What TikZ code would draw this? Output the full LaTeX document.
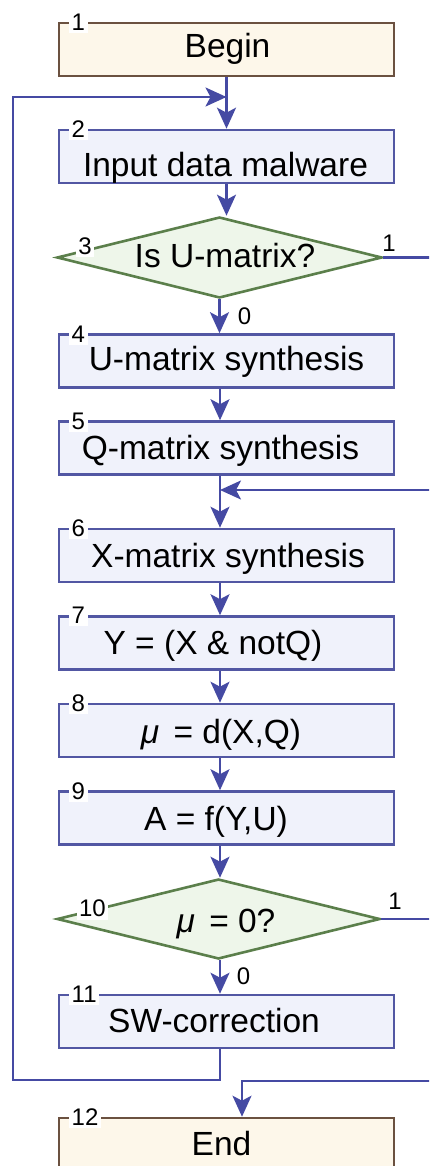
\documentclass[tikz,border=0pt]{standalone}
\usepackage{fontspec}
\setmainfont{Liberation Sans}
\usetikzlibrary{shapes.geometric,arrows.meta}
\definecolor{conncol}{HTML}{454AA3}
\definecolor{boxdraw}{HTML}{5257A3}
\definecolor{boxfill}{HTML}{F0F2FB}
\definecolor{termdraw}{HTML}{6B5140}
\definecolor{termfill}{HTML}{FDF7EA}
\definecolor{decdraw}{HTML}{5B7F4B}
\definecolor{decfill}{HTML}{EEF6EA}
\begin{document}
\begin{tikzpicture}[x=1pt,y=-1pt,
 proc/.style={rectangle,draw=boxdraw,fill=boxfill,line width=2.6pt,minimum width=335pt,minimum height=53pt,inner sep=0pt},
 term/.style={proc,draw=termdraw,fill=termfill},
 dec/.style={diamond,draw=decdraw,fill=decfill,line width=2.6pt,inner sep=0pt,aspect=4},
 txt/.style={anchor=base,inner sep=0pt,font=\fontsize{33.5}{40}\selectfont},
 num/.style={fill=white,inner sep=2.5pt,font=\fontsize{24}{28}\selectfont},
 brl/.style={inner sep=0pt,font=\fontsize{24}{28}\selectfont},
 conn/.style={draw=conncol,line width=2.4pt,line join=miter,-{Stealth[length=21pt,width=19pt,inset=5pt]}},
 wire/.style={draw=conncol,line width=2.4pt,line join=miter}]
\useasboundingbox (0,0) rectangle (429,1166);
\clip (0,0) rectangle (429,1166);
% shapes
\node[term] (b1) at (226.5,49.5) {};
\node[proc] (b2) at (226.5,156.5) {};
\node[dec,minimum width=325pt,minimum height=81pt] (d3) at (219.5,257.5) {};
\node[proc] (b4) at (226.5,361) {};
\node[proc] (b5) at (226.5,448) {};
\node[proc] (b6) at (226.5,555.5) {};
\node[proc] (b7) at (226.5,643) {};
\node[proc] (b8) at (226.5,730.5) {};
\node[proc] (b9) at (226.5,818) {};
\node[dec,minimum width=323pt,minimum height=80pt] (d10) at (218.5,919) {};
\node[proc] (b11) at (226.5,1021.5) {};
\node[term] (b12) at (226.5,1144.5) {};
% helper coordinates
\coordinate (cx) at (220,0);
\coordinate (lb) at (13,1080);
\coordinate (lt) at (13,97);
\coordinate (r3) at (440,257.5);
\coordinate (r5) at (440,490);
\coordinate (r10) at (440,919);
\coordinate (r11) at (440,1081);
\coordinate (ej) at (242,1081);
% connectors
\draw[conn] (b1.south) -- (b2.north);
\draw[conn] (b2.south) -- (b2.south |- d3.north);
\draw[conn] (d3.south) -- (d3.south |- b4.north);
\draw[conn] (cx |- b4.south) -- (cx |- b5.north);
\draw[conn] (cx |- b5.south) -- (cx |- b6.north);
\draw[conn] (r5) -- (cx |- r5);
\draw[conn] (cx |- b6.south) -- (cx |- b7.north);
\draw[conn] (cx |- b7.south) -- (cx |- b8.north);
\draw[conn] (cx |- b8.south) -- (cx |- b9.north);
\draw[conn] (cx |- b9.south) -- (cx |- d10.north);
\draw[conn] (cx |- d10.south) -- (cx |- b11.north);
\draw[conn] (cx |- b11.south) |- (lb) -- (lt) -- (b1.south |- lt);
\draw[wire] (d3.east) -- (r3);
\draw[wire] (d10.east) -- (r10);
\draw[conn] (r11) -- (ej) -- (ej |- b12.north);
% texts
\node[txt] (t1) at (227.5,57.5) {Begin};
\node[txt] (t2) at (225.5,177) {Input data malware};
\node[txt] (t3) at (225,267) {Is U-matrix?};
\node[txt] (t4) at (226.5,370) {U-matrix synthesis};
\node[txt] (t5) at (220.5,459) {Q-matrix synthesis};
\node[txt] (t6) at (228,567) {X-matrix synthesis};
\node[txt] (t7) at (213,654) {Y = (X \& notQ)};
\node[txt] (t8) at (221,743) {{\itshape μ}\hspace{5pt} = d(X,Q)};
\node[txt] (t9) at (216,830) {A = f(Y,U)};
\node[txt] (t10) at (226,932) {{\itshape μ}\hspace{5pt} = 0?};
\node[txt] (t11) at (214,1032) {SW-correction};
\node[txt] (t12) at (221.5,1155) {End};
% number labels
\node[num,anchor=west] (n1) at (69,22) {1};
\node[num,anchor=west] (n2) at (69,129) {2};
\node[num] (n3) at (85,246.5) {3};
\node[num,anchor=west] (n4) at (69,334) {4};
\node[num,anchor=west] (n5) at (69,421) {5};
\node[num,anchor=west] (n6) at (69,528) {6};
\node[num,anchor=west] (n7) at (69,615) {7};
\node[num,anchor=west] (n8) at (69,703) {8};
\node[num,anchor=west] (n9) at (69,791) {9};
\node[num] (n10) at (92.5,908.5) {10};
\node[num,anchor=west] (n11) at (69,994) {11};
\node[num,anchor=west] (n12) at (69,1117) {12};
% branch labels
\node[brl] (y3) at (389,243) {1};
\node[brl] (z3) at (244.5,316.5) {0};
\node[brl] (y10) at (395,901.5) {1};
\node[brl] (z10) at (243.5,976.5) {0};
\end{tikzpicture}
\end{document}
